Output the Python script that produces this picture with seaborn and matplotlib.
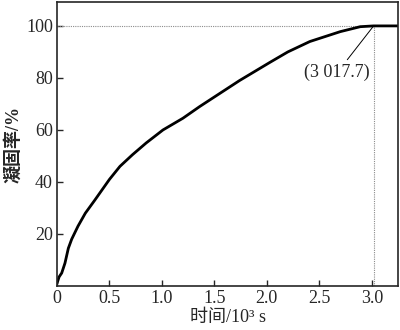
import seaborn as sns
import matplotlib.pyplot as plt
import pandas as pd

# solidification curve
time_ks = [0, 0.02, 0.045, 0.076, 0.108, 0.14, 0.2, 0.27, 0.36, 0.5, 0.6, 0.72, 0.85, 1.01, 1.2, 1.36, 1.55, 1.74, 2.03, 2.2, 2.41, 2.70, 2.89, 3.0177, 3.25]
solid_pct = [1, 3.5, 5, 8.8, 14.5, 18, 23, 28, 33, 41, 46, 50.5, 55, 60, 64.5, 69, 74, 79, 86, 90, 94, 97.8, 99.7, 100, 100]
t_end = 3.0177
end_label = "(3 017.7)"

xticks = [0, 0.5, 1.0, 1.5, 2.0, 2.5, 3.0]
xtick_labels = ["0", "0.5", "1.0", "1.5", "2.0", "2.5", "3.0"]
yticks = [20, 40, 60, 80, 100]

sns.set_style("ticks")
plt.rcParams['font.family'] = ['Liberation Serif', 'Noto Sans CJK SC']
plt.rcParams['font.size'] = 13

df = pd.DataFrame({"t": time_ks, "f": solid_pct})

fig = plt.figure(figsize=(4, 3.3), dpi=100)
ax = fig.add_axes([0.1425, 0.1333, 0.8525, 0.8607])

ax.plot([0, t_end], [100, 100], color="0.55", lw=0.8, ls=(0, (1, 1)))
ax.plot([t_end, t_end], [0, 100], color="0.55", lw=0.8, ls=(0, (1, 1)))
sns.lineplot(data=df, x="t", y="f", ax=ax, color="black", lw=2.0, sort=False)

ax.annotate(end_label, xy=(t_end, 100), xytext=(2.67, 82.0), ha="center", va="center",
            fontsize=13, arrowprops=dict(arrowstyle="-", color="black", lw=0.7,
                                         shrinkA=1, shrinkB=0))

ax.set_xlim(0, 3.25)
ax.set_ylim(0, 109.2)
ax.set_xticks(xticks)
ax.set_xticklabels(xtick_labels)
ax.set_yticks(yticks)
ax.tick_params(direction="in", length=4, width=1, labelsize=13, pad=3)
for s in ax.spines.values():
    s.set_linewidth(1.2)

ax.set_xlabel("时间/10³ s", fontsize=13, labelpad=1)
ax.set_ylabel("凝固率/%", fontsize=13, labelpad=3, fontweight="bold")

fig.savefig("out.png", dpi=100)
